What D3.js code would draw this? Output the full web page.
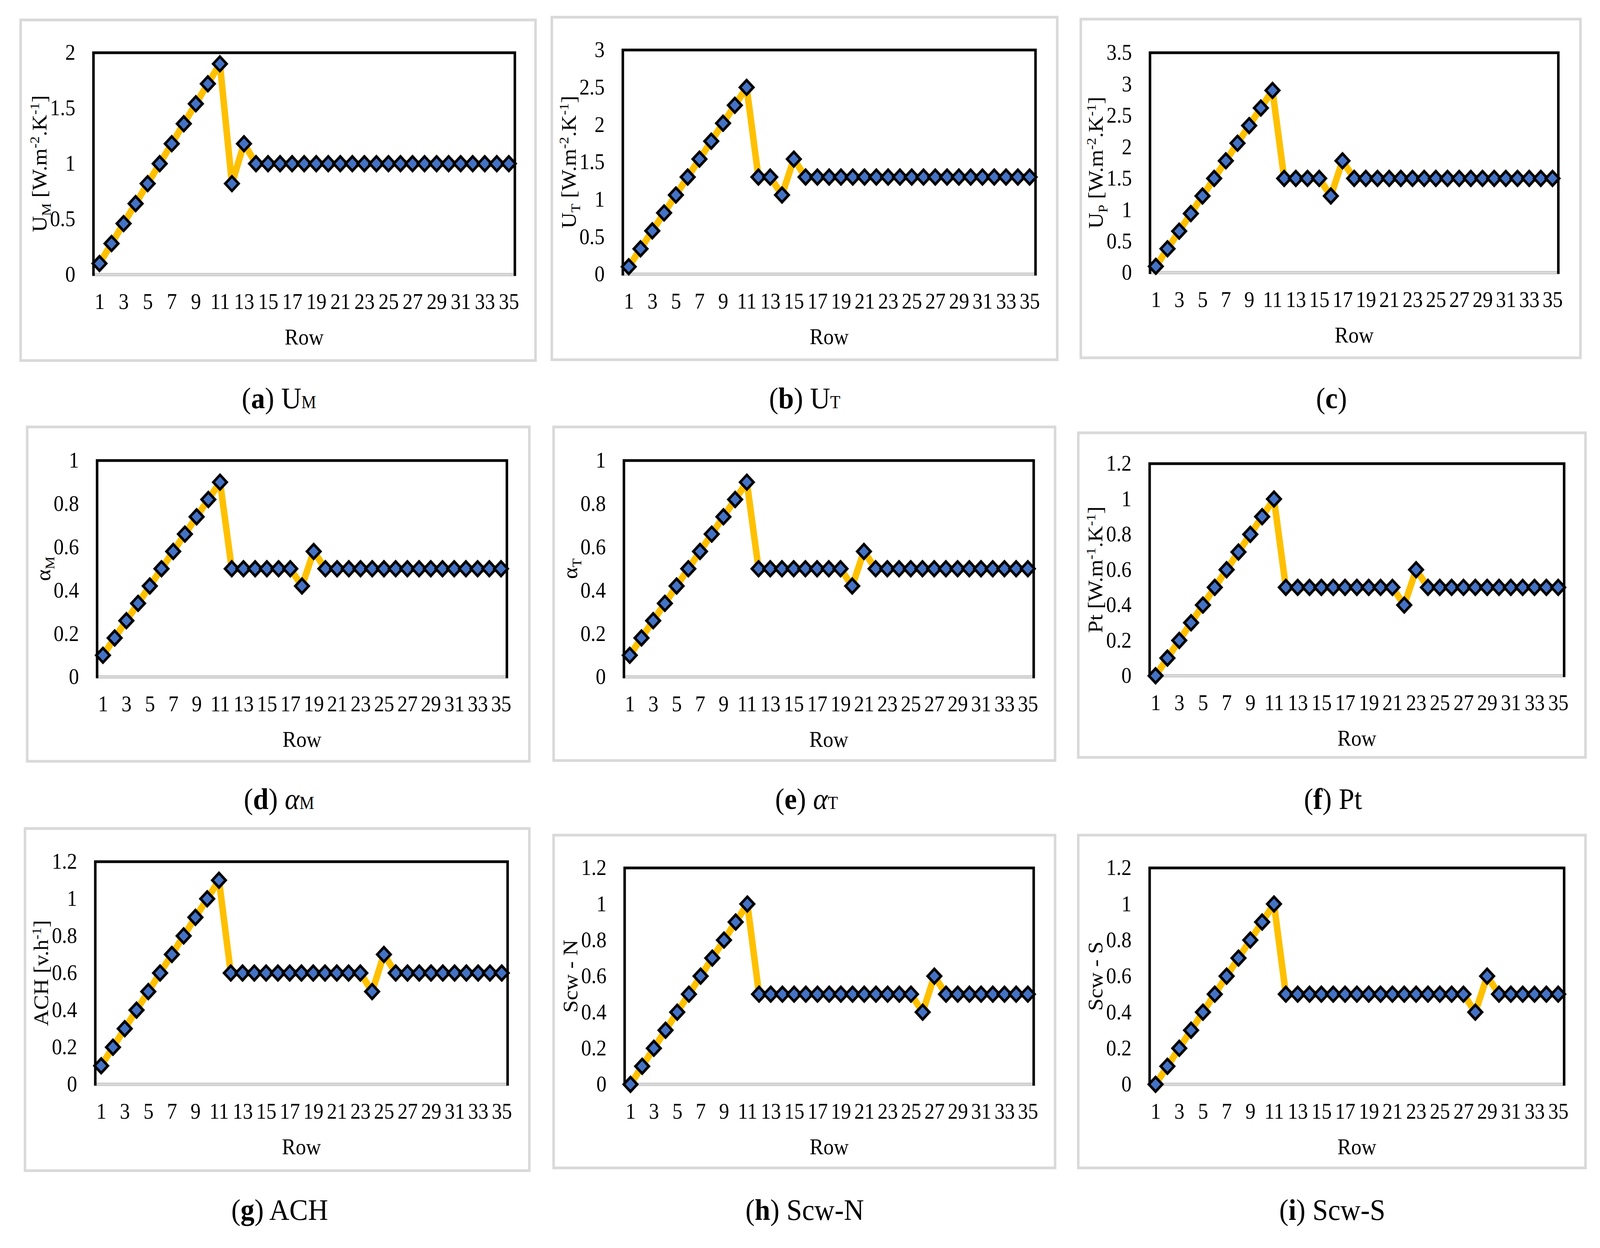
<!DOCTYPE html>
<html><head><meta charset="utf-8">
<script src="https://cdn.jsdelivr.net/npm/d3@7"></script>
<style>html,body{margin:0;padding:0;background:#fff;overflow:hidden;} svg{display:block;width:100vw;height:100vh;}</style>
</head><body>
<svg id="chart" viewBox="0 0 4416 3195" preserveAspectRatio="none"></svg>
<script>
// ---------- DATA ----------
const rows = [1,2,3,4,5,6,7,8,9,10,11,12,13,14,15,16,17,18,19,20,21,22,23,24,25,26,27,28,29,30,31,32,33,34,35];
const xTickLabels = [1,3,5,7,9,11,13,15,17,19,21,23,25,27,29,31,33,35];

const uM = [0.1,0.28,0.46,0.64,0.82,1,1.18,1.36,1.54,1.72,1.9,0.82,1.18,
  1,1,1,1,1,1,1,1,1,1, 1,1,1,1,1,1,1,1,1,1, 1,1];
const uT = [0.1,0.34,0.58,0.82,1.06,1.3,1.54,1.78,2.02,2.26,2.5,1.3,1.3,1.06,1.54,
  1.3,1.3,1.3,1.3,1.3,1.3,1.3,1.3,1.3,1.3, 1.3,1.3,1.3,1.3,1.3,1.3,1.3,1.3,1.3,1.3];
const uP = [0.1,0.38,0.66,0.94,1.22,1.5,1.78,2.06,2.34,2.62,2.9,1.5,1.5,1.5,1.5,1.22,1.78,
  1.5,1.5,1.5,1.5,1.5,1.5,1.5,1.5,1.5, 1.5,1.5,1.5,1.5,1.5,1.5,1.5,1.5,1.5];
const alphaM = [0.1,0.18,0.26,0.34,0.42,0.5,0.58,0.66,0.74,0.82,0.9,
  0.5,0.5,0.5,0.5,0.5,0.5, 0.42,0.58,
  0.5,0.5,0.5,0.5,0.5,0.5,0.5,0.5, 0.5,0.5,0.5,0.5,0.5,0.5,0.5,0.5];
const alphaT = [0.1,0.18,0.26,0.34,0.42,0.5,0.58,0.66,0.74,0.82,0.9,
  0.5,0.5,0.5,0.5,0.5,0.5,0.5,0.5, 0.42,0.58,
  0.5,0.5,0.5,0.5,0.5,0.5,0.5, 0.5,0.5,0.5,0.5,0.5,0.5,0.5];
const pt = [0,0.1,0.2,0.3,0.4,0.5,0.6,0.7,0.8,0.9,1,
  0.5,0.5,0.5,0.5,0.5,0.5,0.5,0.5,0.5,0.5, 0.4,0.6,
  0.5,0.5,0.5,0.5,0.5,0.5, 0.5,0.5,0.5,0.5,0.5,0.5];
const ach = [0.1,0.2,0.3,0.4,0.5,0.6,0.7,0.8,0.9,1,1.1,
  0.6,0.6,0.6,0.6,0.6,0.6, 0.6,0.6,0.6,0.6,0.6,0.6, 0.5,0.7,
  0.6,0.6,0.6,0.6,0.6, 0.6,0.6,0.6,0.6,0.6];
const scwN = [0,0.1,0.2,0.3,0.4,0.5,0.6,0.7,0.8,0.9,1,
  0.5,0.5,0.5,0.5,0.5,0.5,0.5, 0.5,0.5,0.5,0.5,0.5,0.5,0.5, 0.4,0.6,
  0.5,0.5,0.5,0.5, 0.5,0.5,0.5,0.5];
const scwS = [0,0.1,0.2,0.3,0.4,0.5,0.6,0.7,0.8,0.9,1,
  0.5,0.5,0.5,0.5,0.5,0.5,0.5,0.5, 0.5,0.5,0.5,0.5,0.5,0.5,0.5,0.5, 0.4,0.6,
  0.5,0.5,0.5, 0.5,0.5,0.5];

const yTicks_0_2 = [0,0.5,1,1.5,2];
const yTicks_0_3 = [0,0.5,1,1.5,2,2.5,3];
const yTicks_0_35 = [0,0.5,1,1.5,2,2.5,3,3.5];
const yTicks_0_1 = [0,0.2,0.4,0.6,0.8,1];
const yTicks_0_12 = [0,0.2,0.4,0.6,0.8,1,1.2];

const xTitle = "Row";

// title parts: [text, kind] kind: n normal, sub, sup
const titleUM = [["U","n"],["M","sub"],[" [W.m","n"],["-2","sup"],[".K","n"],["-1","sup"],["]","n"]];
const titleUT = [["U","n"],["T","sub"],[" [W.m","n"],["-2","sup"],[".K","n"],["-1","sup"],["]","n"]];
const titleUP = [["U","n"],["P","sub"],[" [W.m","n"],["-2","sup"],[".K","n"],["-1","sup"],["]","n"]];
const titleAM = [["α","n"],["M","sub"]];
const titleAT = [["α","n"],["T","sub"]];
const titlePt = [["Pt [W.m","n"],["-1","sup"],[".K","n"],["-1","sup"],["]","n"]];
const titleACH = [["ACH [v.h","n"],["-1","sup"],["]","n"]];
const titleSN = [["Scw - N","n"]];
const titleSS = [["Scw - S","n"]];

// caption parts: kind: n normal, b bold, s small, i italic
const capA = [["(","n"],["a","b"],[") U","n"],["M","s"]];
const capB = [["(","n"],["b","b"],[") U","n"],["T","s"]];
const capC = [["(","n"],["c","b"],[")","n"]];
const capD = [["(","n"],["d","b"],[") ","n"],["α","i"],["M","s"]];
const capE = [["(","n"],["e","b"],[") ","n"],["α","i"],["T","s"]];
const capF = [["(","n"],["f","b"],[") Pt","n"]];
const capG = [["(","n"],["g","b"],[") ACH","n"]];
const capH = [["(","n"],["h","b"],[") Scw-N","n"]];
const capI = [["(","n"],["i","b"],[") Scw-S","n"]];

// ---------- LAYOUT (positions only) ----------
const layout = [
  {frame:[57,51,1478,923],   plot:[258,135,1421,703],   cap:[770,1045]},
  {frame:[1523,44,2918,921], plot:[1719,128,2858,702],  cap:[2221,1045]},
  {frame:[2983,49,4362,916], plot:[3174,135,4301,698],  cap:[3675,1045]},
  {frame:[75,1093,1461,1949],   plot:[268,1179,1399,1733],  cap:[770,2071]},
  {frame:[1528,1093,2912,1947], plot:[1722,1179,2853,1733], cap:[2226,2071]},
  {frame:[2976,1108,4376,1939], plot:[3173,1187,4317,1730], cap:[3679,2071]},
  {frame:[69,2121,1461,2997],   plot:[263,2206,1401,2776],  cap:[772,3123]},
  {frame:[1528,2138,2912,2990], plot:[1724,2222,2853,2776], cap:[2221,3123]},
  {frame:[2976,2138,4376,2990], plot:[3173,2222,4317,2776], cap:[3677,3123]}
];

const panels = [
  {values:uM, ticks:yTicks_0_2, title:titleUM, caption:capA},
  {values:uT, ticks:yTicks_0_3, title:titleUT, caption:capB},
  {values:uP, ticks:yTicks_0_35, title:titleUP, caption:capC},
  {values:alphaM, ticks:yTicks_0_1, title:titleAM, caption:capD},
  {values:alphaT, ticks:yTicks_0_1, title:titleAT, caption:capE},
  {values:pt, ticks:yTicks_0_12, title:titlePt, caption:capF},
  {values:ach, ticks:yTicks_0_12, title:titleACH, caption:capG},
  {values:scwN, ticks:yTicks_0_12, title:titleSN, caption:capH},
  {values:scwS, ticks:yTicks_0_12, title:titleSS, caption:capI}
];

// ---------- STYLE ----------
const FONT = "'Liberation Serif','Times New Roman',serif";
const LINE_COLOR = "#FFC000";
const MARKER_FILL = "#4472C4";
const FRAME_COLOR = "#D9D9D9";
const TICK_FS = 56, TITLE_FS = 57, CAP_FS = 77;
const MARKER_R = 18.5, MARKER_SW = 7, LINE_W = 18;

const svg = d3.select("#chart");
svg.append("rect").attr("width",4416).attr("height",3195).attr("fill","#fff");

const fmt = v => String(+v.toFixed(2));

panels.forEach((p, i) => {
  const L = layout[i];
  const [fx0,fy0,fx1,fy1] = L.frame;
  const [px0,py0,px1,py1] = L.plot;
  const g = svg.append("g");

  // outer chart frame
  g.append("rect")
    .attr("x",fx0).attr("y",fy0).attr("width",fx1-fx0).attr("height",fy1-fy0)
    .attr("fill","#fff").attr("stroke",FRAME_COLOR).attr("stroke-width",7);

  const x = d3.scalePoint().domain(rows).range([px0,px1]).padding(0.5);
  const y = d3.scaleLinear().domain([0, d3.max(p.ticks)]).range([py1,py0]);

  // plot area border
  g.append("rect")
    .attr("x",px0).attr("y",py0).attr("width",px1-px0).attr("height",py1-py0)
    .attr("fill","none").attr("stroke","#000").attr("stroke-width",7);

  // y axis (labels only)
  const yAxis = d3.axisLeft(y).tickValues(p.ticks).tickFormat(fmt).tickSize(0).tickPadding(50);
  const ya = g.append("g").attr("transform",`translate(${px0},0)`).call(yAxis);
  ya.select(".domain").remove();
  ya.selectAll("text").attr("font-family",FONT).attr("font-size",TICK_FS).attr("fill","#000");

  // x axis: gray baseline + labels
  const xAxis = d3.axisBottom(x).tickValues(xTickLabels).tickSize(0).tickPadding(0);
  const xa = g.append("g").attr("transform",`translate(0,${py1})`).call(xAxis);
  xa.select(".domain").remove();
  xa.selectAll("text").attr("font-family",FONT).attr("font-size",TICK_FS).attr("fill","#000")
    .attr("dy",null).attr("y",88);
  g.append("line").attr("x1",px0+3.5).attr("x2",px1-3.5).attr("y1",py1).attr("y2",py1)
    .attr("stroke",FRAME_COLOR).attr("stroke-width",7);

  // x title
  g.append("text").attr("x",(px0+px1)/2).attr("y",py1+179)
    .attr("text-anchor","middle").attr("font-family",FONT).attr("font-size",TITLE_FS)
    .text(xTitle);

  // y title
  const yt = g.append("text")
    .attr("transform",`translate(${px0-130},${(py0+py1)/2}) rotate(-90)`)
    .attr("text-anchor","middle").attr("font-family",FONT).attr("font-size",TITLE_FS);
  let shift = 0;
  p.title.forEach(([t,k]) => {
    const target = k==="sub" ? 12 : k==="sup" ? -20 : 0;
    const ts = yt.append("tspan").attr("dy", target - shift).text(t);
    if (k!=="n") ts.attr("font-size", 37);
    shift = target;
  });

  // series line
  const line = d3.line().x((d,j)=>x(rows[j])).y(d=>y(d));
  g.append("path").datum(p.values).attr("d",line)
    .attr("fill","none").attr("stroke",LINE_COLOR).attr("stroke-width",LINE_W)
    .attr("stroke-linejoin","round").attr("stroke-linecap","round");

  // markers (square diamonds)
  const r = MARKER_R;
  g.selectAll("path.mk").data(p.values).join("path").attr("class","mk")
    .attr("d",`M0,${-r}L${r},0L0,${r}L${-r},0Z`)
    .attr("transform",(d,j)=>`translate(${x(rows[j])},${y(d)})`)
    .attr("fill",MARKER_FILL).attr("stroke","#000").attr("stroke-width",MARKER_SW)
    .attr("stroke-linejoin","miter");

  // caption
  const cap = svg.append("text").attr("x",L.cap[0]).attr("y",L.cap[1])
    .attr("text-anchor","middle").attr("font-family",FONT).attr("font-size",CAP_FS);
  p.caption.forEach(([t,k]) => {
    const ts = cap.append("tspan").text(t);
    if (k==="b") ts.attr("font-weight","bold");
    if (k==="s") ts.attr("font-size",46);
    if (k==="i") ts.attr("font-style","italic");
  });
});
</script>
</body></html>
